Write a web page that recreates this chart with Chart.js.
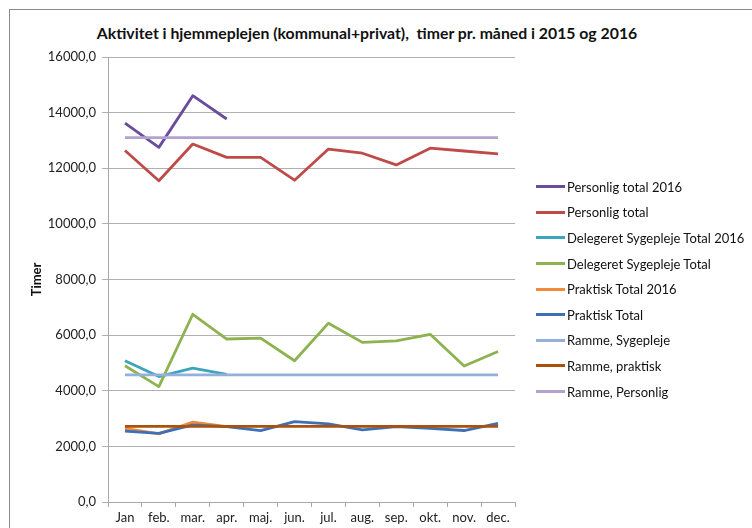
<!DOCTYPE html>
<html lang="da">
<head>
  <meta charset="UTF-8" />
  <title>Aktivitet i hjemmeplejen</title>
  <script src="https://cdn.jsdelivr.net/npm/chart.js"></script>
  <style>
    body { margin: 0; background: #fff; font-family: Lato, "Open Sans", sans-serif; }
    #wrap { position: relative; width: 752px; height: 528px; overflow: hidden; }
    #frame { position: absolute; left: 9px; top: 9px; width: 900px; height: 700px; border: 1px solid #8a8a8a; }
    #title { position: absolute; left: 0; width: 734px; top: 23px; text-align: center; font-weight: bold; font-size: 15.8px; color: #111; }
    #chart { position: absolute; left: 0; top: 0; }
    #legend { position: absolute; left: 536px; top: 174px; font-size: 13px; color: #111; }
    #legend .row { height: 25.6px; display: flex; align-items: center; white-space: nowrap; }
    #legend .sw { width: 29px; height: 3px; margin-right: 2px; }
  </style>
</head>
<body>
<div id="wrap">
  <div id="frame"></div>
  <div id="title">Aktivitet i hjemmeplejen (kommunal+privat),&nbsp; timer pr. måned i 2015 og 2016</div>
  <canvas id="chart" width="752" height="528"></canvas>
  <div id="legend"></div>
</div>

<script>
  const months = ["Jan", "feb.", "mar.", "apr.", "maj.", "jun.", "jul.", "aug.", "sep.", "okt.", "nov.", "dec."];
  const yTicks = [0, 2000, 4000, 6000, 8000, 10000, 12000, 14000, 16000];

  const personligTotal2016 = [13620, 12750, 14610, 13770];
  const personligTotal = [12640, 11550, 12870, 12390, 12390, 11570, 12690, 12540, 12120, 12720, 12620, 12520];
  const delegeretTotal2016 = [5080, 4510, 4810, 4590];
  const delegeretTotal = [4900, 4150, 6750, 5860, 5890, 5080, 6430, 5740, 5790, 6030, 4890, 5410];
  const praktiskTotal2016 = [2650, 2450, 2870, 2710];
  const praktiskTotal = [2550, 2470, 2770, 2710, 2570, 2890, 2810, 2590, 2710, 2650, 2570, 2830];
  const rammeSygepleje = [4570, 4570, 4570, 4570, 4570, 4570, 4570, 4570, 4570, 4570, 4570, 4570];
  const rammePraktisk = [2720, 2720, 2720, 2720, 2720, 2720, 2720, 2720, 2720, 2720, 2720, 2720];
  const rammePersonlig = [13100, 13100, 13100, 13100, 13100, 13100, 13100, 13100, 13100, 13100, 13100, 13100];

  const series = [
    { label: "Personlig total 2016", data: personligTotal2016, color: "#6a4c9c" },
    { label: "Personlig total", data: personligTotal, color: "#be4b48" },
    { label: "Delegeret Sygepleje Total 2016", data: delegeretTotal2016, color: "#3ea3bd" },
    { label: "Delegeret Sygepleje Total", data: delegeretTotal, color: "#8db350" },
    { label: "Praktisk Total 2016", data: praktiskTotal2016, color: "#f08a3c" },
    { label: "Praktisk Total", data: praktiskTotal, color: "#3f70b5" },
    { label: "Ramme, Sygepleje", data: rammeSygepleje, color: "#93b1da" },
    { label: "Ramme, praktisk", data: rammePraktisk, color: "#a9520e" },
    { label: "Ramme, Personlig", data: rammePersonlig, color: "#b3a2cf" }
  ];

  const legend = document.getElementById("legend");
  series.forEach(function (s) {
    const row = document.createElement("div");
    row.className = "row";
    row.innerHTML = '<span class="sw" style="background:' + s.color + '"></span><span>' + s.label + '</span>';
    legend.appendChild(row);
  });

  Chart.defaults.font.family = "Lato, 'Open Sans', sans-serif";
  Chart.defaults.color = "#222";

  new Chart(document.getElementById("chart"), {
    type: "line",
    data: {
      labels: months,
      datasets: series.map(function (s, i) {
        return {
          label: s.label,
          data: s.data,
          borderColor: s.color,
          backgroundColor: s.color,
          borderWidth: 2.8,
          pointRadius: 0,
          tension: 0,
          borderJoinStyle: "round",
          order: series.length - i
        };
      })
    },
    options: {
      responsive: false,
      animation: false,
      layout: { padding: { left: 10, right: 237, top: 57, bottom: 0 } },
      plugins: {
        legend: { display: false },
        tooltip: { enabled: false }
      },
      scales: {
        x: {
          offset: true,
          grid: { offset: true, drawOnChartArea: false, drawTicks: true, tickLength: 5, color: "#a8a8a8" },
          border: { color: "#a8a8a8" },
          ticks: { font: { size: 13 }, padding: 3, maxRotation: 0, autoSkip: false },
          afterFit: function (s) { s.height = 26; }
        },
        y: {
          min: 0,
          max: 16000,
          afterBuildTicks: function (s) { s.ticks = yTicks.map(function (v) { return { value: v }; }); },
          grid: { color: "#b0b0b0", tickLength: 6 },
          border: { color: "#a8a8a8" },
          ticks: {
            font: { size: 13 },
            padding: 6,
            callback: function (v) { return v.toFixed(1).replace(".", ","); }
          },
          title: { display: true, text: "Timer", font: { size: 13, weight: "bold" }, color: "#111", padding: { top: 19, bottom: 0 } },
          afterFit: function (s) { s.width = 98; }
        }
      }
    }
  });
</script>
</body>
</html>
